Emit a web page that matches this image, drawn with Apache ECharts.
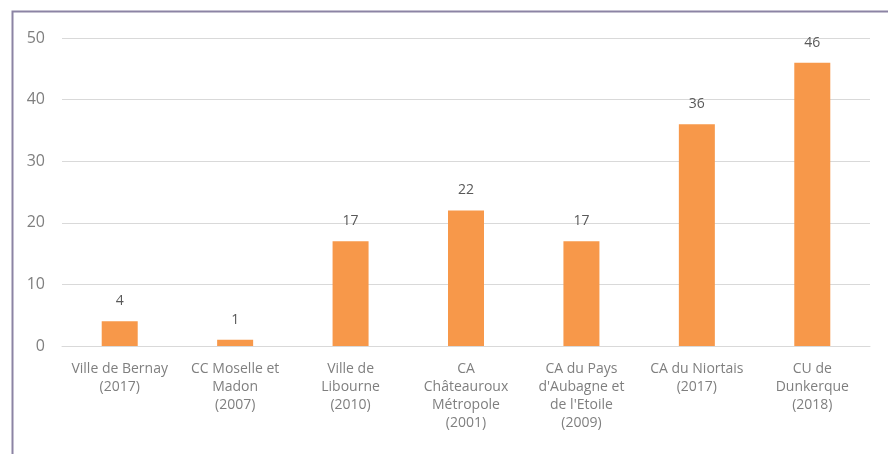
<!DOCTYPE html>
<html><head><meta charset="utf-8">
<script src="https://cdn.jsdelivr.net/npm/echarts@6/dist/echarts.min.js"></script>
<style>html,body{margin:0;padding:0;background:#fff}#c{width:888px;height:454px}</style>
</head><body><div id="c"></div>
<script>
const categories = [
  "Ville de Bernay\n(2017)",
  "CC Moselle et\nMadon\n(2007)",
  "Ville de\nLibourne\n(2010)",
  "CA\nChâteauroux\nMétropole\n(2001)",
  "CA du Pays\nd'Aubagne et\nde l'Etoile\n(2009)",
  "CA du Niortais\n(2017)",
  "CU de\nDunkerque\n(2018)"
];
const values = [4, 1, 17, 22, 17, 36, 46];
const yTicks = [0, 10, 20, 30, 40, 50];

const chart = echarts.init(document.getElementById('c'), null, {renderer: 'canvas'});
chart.setOption({
  animation: false,
  backgroundColor: '#ffffff',
  graphic: [{
    type: 'rect', left: 10, top: 9, z: 100,
    shape: {width: 1000, height: 600},
    style: {fill: 'none', stroke: '#8c84a4', lineWidth: 2}
  }],
  grid: {left: 62, right: 18, top: 38, bottom: 108, containLabel: false},
  xAxis: {
    type: 'category', data: categories,
    axisLine: {show: true, lineStyle: {color: '#d9d9d9', width: 1}},
    axisTick: {show: false},
    axisLabel: {color: '#7f7f7f', fontFamily: 'Open Sans, Calibri, sans-serif', fontSize: 14, lineHeight: 18, margin: 14, interval: 0}
  },
  yAxis: {
    type: 'value', min: yTicks[0], max: yTicks[yTicks.length-1], interval: 10,
    axisLine: {show: false}, axisTick: {show: false},
    splitLine: {lineStyle: {color: '#d9d9d9', width: 1}},
    axisLabel: {color: '#7f7f7f', fontFamily: 'Open Sans, Calibri, sans-serif', fontSize: 16, margin: 17}
  },
  series: [{
    type: 'bar', data: values, barWidth: 36,
    itemStyle: {color: '#f7984a'},
    label: {show: true, position: 'top', distance: 13, color: '#595959', fontFamily: 'Open Sans, Calibri, sans-serif', fontSize: 14}
  }]
});
</script></body></html>
